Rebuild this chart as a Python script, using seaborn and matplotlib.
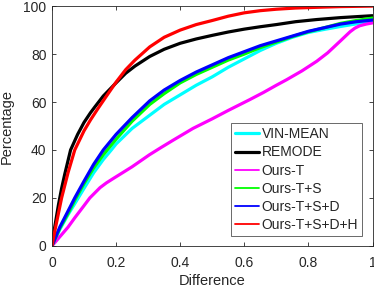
import matplotlib
matplotlib.use("Agg")
import matplotlib.pyplot as plt
from matplotlib.lines import Line2D
import seaborn as sns
import pandas as pd

methods = ["VIN-MEAN", "REMODE", "Ours-T", "Ours-T+S", "Ours-T+S+D", "Ours-T+S+D+H"]
colors = ["#00ffff", "#000000", "#ff00ff", "#00ff00", "#0000ff", "#ff0000"]

vin_x = [0, 0.01, 0.025, 0.05, 0.082, 0.1, 0.13, 0.16, 0.185, 0.2, 0.25, 0.305, 0.35, 0.4,
         0.45, 0.5, 0.55, 0.6, 0.65, 0.7, 0.75, 0.8, 0.85, 0.9, 0.95, 1.0]
vin_y = [0, 2.8, 7, 13, 20, 24, 30.5, 36, 40, 42.5, 49, 54.5, 59, 63,
         67, 70.5, 74.5, 78, 81.5, 84.5, 87, 89, 90.3, 91.5, 92.6, 93.5]

remode_x = [0, 0.005, 0.01, 0.02, 0.03, 0.04, 0.058, 0.08, 0.1, 0.12, 0.134, 0.16, 0.2, 0.23,
            0.259, 0.305, 0.35, 0.4, 0.45, 0.5, 0.55, 0.6, 0.65, 0.7, 0.76, 0.826, 0.9, 1.0]
remode_y = [0, 5, 9, 17, 24, 30, 40, 46.5, 51.5, 55.5, 58, 62.5, 68, 72,
            75, 79, 82, 84.5, 86.3, 87.8, 89.2, 90.4, 91.4, 92.3, 93.5, 94.4, 95.2, 96]

ourst_x = [0, 0.025, 0.05, 0.071, 0.1, 0.118, 0.15, 0.17, 0.19, 0.22, 0.25, 0.304, 0.34, 0.377,
           0.44, 0.5, 0.55, 0.617, 0.66, 0.7, 0.732, 0.78, 0.826, 0.86, 0.9, 0.93, 0.945,
           0.96, 0.98, 1.0]
ourst_y = [0, 3.9, 7.8, 11.7, 16.8, 20, 24.3, 26.3, 28, 30.5, 33, 38, 41, 44,
           49, 53, 56.5, 61, 64, 67, 69.3, 73, 77, 80.5, 85.5, 89.3, 90.8,
           91.8, 92.5, 93]

ts_x = [0, 0.025, 0.05, 0.071, 0.1, 0.13, 0.16, 0.2, 0.25, 0.305, 0.35, 0.4, 0.45, 0.5,
        0.55, 0.6, 0.65, 0.7, 0.75, 0.8, 0.85, 0.9, 0.95, 1.0]
ts_y = [0, 7.5, 13.5, 19, 26, 32.5, 38, 44.5, 52, 59, 63.5, 68, 71.5, 74.5,
        77.5, 80, 82.7, 85, 87.3, 89.3, 91, 92.8, 94, 95]

tsd_x = [0, 0.01, 0.025, 0.05, 0.071, 0.1, 0.13, 0.16, 0.2, 0.25, 0.305, 0.35, 0.4, 0.45,
         0.5, 0.55, 0.6, 0.65, 0.7, 0.75, 0.8, 0.85, 0.9, 0.95, 1.0]
tsd_y = [0, 3.3, 8, 14.5, 20, 27, 34, 40, 46.5, 53.5, 60.5, 65, 69, 72.5,
         75.5, 78.5, 81, 83.5, 85.5, 87.5, 89.5, 91, 92.5, 93.5, 94.2]

tsdh_x = [0, 0.01, 0.02, 0.03, 0.05, 0.071, 0.1, 0.12, 0.142, 0.17, 0.2, 0.23, 0.259, 0.305,
          0.35, 0.4, 0.45, 0.5, 0.55, 0.6, 0.65, 0.7, 0.76, 0.826, 0.9, 1.0]
tsdh_y = [0, 7, 13.5, 20, 30.5, 40, 48, 52.5, 57, 62.5, 68.3, 73.5, 77.5, 83,
          87, 90, 92.3, 94, 95.8, 97.2, 98.1, 98.7, 99.2, 99.5, 99.8, 100]

series = [(vin_x, vin_y), (remode_x, remode_y), (ourst_x, ourst_y),
          (ts_x, ts_y), (tsd_x, tsd_y), (tsdh_x, tsdh_y)]

frames = []
for name, (xs, ys) in zip(methods, series):
    frames.append(pd.DataFrame({"Difference": xs, "Percentage": ys, "Method": name}))
df = pd.concat(frames, ignore_index=True)

sns.set_style("white")
plt.rcParams["font.family"] = ["Liberation Sans", "DejaVu Sans"]

fig = plt.figure(figsize=(3.74, 2.91), dpi=100)
ax = fig.add_axes([0.139, 0.155, 0.857, 0.824])

sns.lineplot(data=df, x="Difference", y="Percentage", hue="Method",
             hue_order=methods, palette=colors, estimator=None, sort=False,
             linewidth=2.3, legend=False, ax=ax)
for ln in ax.get_lines():
    ln.set_solid_joinstyle("round")
    ln.set_solid_capstyle("round")

ax.set_xlim(0, 1)
ax.set_ylim(0, 100)
ax.set_xticks([0, 0.2, 0.4, 0.6, 0.8, 1])
ax.set_xticklabels(["0", "0.2", "0.4", "0.6", "0.8", "1"])
ax.set_yticks([0, 20, 40, 60, 80, 100])
ax.tick_params(direction="in", length=3, width=0.6, colors="#262626",
               labelsize=10, top=True, right=True, bottom=True, left=True)
ax.tick_params(axis="x", pad=7)
ax.tick_params(axis="y", pad=4)
ax.set_xlabel("Difference", fontsize=10.5, labelpad=3)
ax.set_ylabel("Percentage", fontsize=10.5, labelpad=7)
for lab in ax.get_xticklabels() + ax.get_yticklabels():
    lab.set_color("#262626")
for s in ax.spines.values():
    s.set_color("#262626")
    s.set_linewidth(0.6)

lws = [2.3, 2.3, 1.3, 1.3, 1.3, 1.3]
handles = [Line2D([0], [0], color=c, lw=w) for c, w in zip(colors, lws)]
leg = ax.legend(handles, methods, loc="lower right", bbox_to_anchor=(0.968, 0.04),
                fontsize=10, frameon=True, fancybox=False, handlelength=1.7,
                handletextpad=0.2, labelspacing=0.3, borderpad=0.3, borderaxespad=0)
leg.get_frame().set_edgecolor("#262626")
leg.get_frame().set_linewidth(0.6)

fig.savefig("out.png", dpi=100)
